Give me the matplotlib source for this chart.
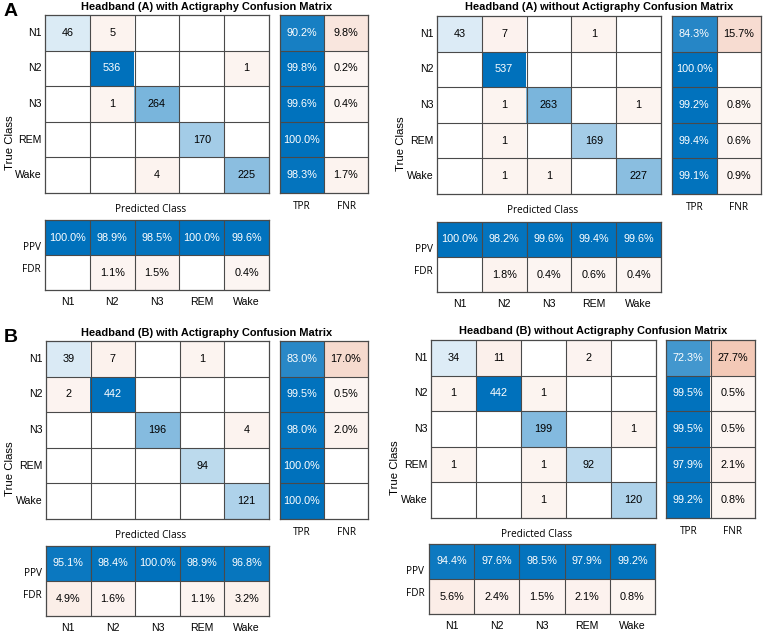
import numpy as np
import matplotlib
matplotlib.use("Agg")
from matplotlib import pyplot as plt

plt.rcParams['font.family'] = ['Liberation Sans', 'DejaVu Sans']

classes = ['N1', 'N2', 'N3', 'REM', 'Wake']

# confusion matrices, rows = true class, cols = predicted class
cm_a_with = [[46, 5, 0, 0, 0],
             [0, 536, 0, 0, 1],
             [0, 1, 264, 0, 0],
             [0, 0, 0, 170, 0],
             [0, 0, 4, 0, 225]]
cm_a_without = [[43, 7, 0, 1, 0],
                [0, 537, 0, 0, 0],
                [0, 1, 263, 0, 1],
                [0, 1, 0, 169, 0],
                [0, 1, 1, 0, 227]]
cm_b_with = [[39, 7, 0, 1, 0],
             [2, 442, 0, 0, 0],
             [0, 0, 196, 0, 4],
             [0, 0, 0, 94, 0],
             [0, 0, 0, 0, 121]]
cm_b_without = [[34, 11, 0, 2, 0],
                [1, 442, 1, 0, 0],
                [0, 0, 199, 0, 1],
                [1, 0, 1, 92, 0],
                [0, 0, 1, 0, 120]]

titles = ['Headband (A) with Actigraphy Confusion Matrix',
          'Headband (A) without Actigraphy Confusion Matrix',
          'Headband (B) with Actigraphy Confusion Matrix',
          'Headband (B) without Actigraphy Confusion Matrix']

BLUE = np.array([0.0, 0.447, 0.741])
ORANGE = np.array([0.85, 0.325, 0.098])
GRID = '#4a4a4a'
W, H = 764, 634
FS_CELL = 7.8
FS_TICK = 7.6


def tint(base, a):
    if a <= 0:
        return np.ones(3)
    return 1 - a * (1 - base)


def box(x0, y0, x1, y1):
    # pixel box -> figure coords
    return [x0 / W, 1 - y1 / H, (x1 - x0) / W, (y1 - y0) / H]


def cell_grid(ax, rgb, texts, white):
    nr, nc = len(rgb), len(rgb[0])
    ax.imshow(rgb, extent=(0, nc, nr, 0), aspect='auto', interpolation='nearest')
    for i in range(nr):
        for j in range(nc):
            if texts[i][j]:
                ax.text(j + 0.5, i + 0.5, texts[i][j], ha='center', va='center',
                        fontsize=FS_CELL, color='white' if white[i][j] else 'black')
    for k in range(1, nr):
        ax.axhline(k, color=GRID, lw=0.8)
    for k in range(1, nc):
        ax.axvline(k, color=GRID, lw=0.8)
    ax.set_xlim(0, nc)
    ax.set_ylim(nr, 0)
    ax.set_xticks([])
    ax.set_yticks([])
    for s in ax.spines.values():
        s.set_color(GRID)
        s.set_linewidth(0.9)


def panel(fig, cm, title, main, row, col, ylab_x, letter=None):
    cm = np.array(cm)
    n = len(classes)
    mx = cm.max()

    # main matrix
    rgb = np.ones((n, n, 3))
    txt = [[''] * n for _ in range(n)]
    wht = [[False] * n for _ in range(n)]
    for i in range(n):
        for j in range(n):
            v = cm[i, j]
            if v == 0:
                continue
            a = 0.06 + 0.94 * v / mx
            rgb[i, j] = tint(BLUE if i == j else ORANGE, a)
            txt[i][j] = str(v)
            wht[i][j] = a > 0.6
    ax = fig.add_axes(box(*main))
    cell_grid(ax, rgb, txt, wht)
    for i, c in enumerate(classes):
        ax.text(-0.08, i + 0.5, c, ha='right', va='center', fontsize=FS_TICK)
    ax.text(0.47, -0.06, 'Predicted Class', transform=ax.transAxes, ha='center',
            va='top', fontsize=7.2, family='Open Sans')
    fig.text(ylab_x / W, 1 - (main[1] + 0.72 * (main[3] - main[1])) / H, 'True Class',
             rotation=90, ha='center', va='center', fontsize=8.2)
    fig.text((main[0] + row[2]) / 2 / W, 1 - (main[1] - 8.5) / H, title,
             ha='center', va='center', fontsize=7.9, fontweight='bold')

    # row summary (TPR / FNR)
    tp = np.diag(cm)
    rs = cm.sum(axis=1)
    tpr = tp / rs
    fnr = 1 - tpr
    rgb = np.ones((n, 2, 3))
    txt = [['', ''] for _ in range(n)]
    wht = [[False, False] for _ in range(n)]
    for i in range(n):
        for j, (v, base) in enumerate([(tpr[i], BLUE), (fnr[i], ORANGE)]):
            if v < 1e-9:
                continue
            a = 0.05 + 0.95 * v
            rgb[i, j] = tint(base, a)
            txt[i][j] = f'{100 * v:.1f}%'
            wht[i][j] = a > 0.6
    axr = fig.add_axes(box(*row))
    cell_grid(axr, rgb, txt, wht)
    for j, lab in enumerate(['TPR', 'FNR']):
        axr.text(j + 0.5, n + 0.38, lab, ha='center', va='center', fontsize=7.2,
                 family='Open Sans')

    # column summary (PPV / FDR)
    cs = cm.sum(axis=0)
    ppv = tp / cs
    fdr = 1 - ppv
    rgb = np.ones((2, n, 3))
    txt = [[''] * n for _ in range(2)]
    wht = [[False] * n for _ in range(2)]
    for j in range(n):
        for i, (v, base) in enumerate([(ppv[j], BLUE), (fdr[j], ORANGE)]):
            if v < 1e-9:
                continue
            a = 0.05 + 0.95 * v
            rgb[i, j] = tint(base, a)
            txt[i][j] = f'{100 * v:.1f}%'
            wht[i][j] = a > 0.6
    axc = fig.add_axes(box(*col))
    cell_grid(axc, rgb, txt, wht)
    axc.text(-0.1, 0.78, 'PPV', ha='right', va='center', fontsize=7.2, family='Open Sans')
    axc.text(-0.1, 1.4, 'FDR', ha='right', va='center', fontsize=7.2, family='Open Sans')
    for j, c in enumerate(classes):
        axc.text(j + 0.5, 2.33, c, ha='center', va='center', fontsize=FS_TICK)

    if letter:
        fig.text(4 / W, 1 - (main[1] - 4) / H, letter, ha='left', va='center',
                 fontsize=14, fontweight='bold')


fig = plt.figure(figsize=(W / 100, H / 100), dpi=100)

panel(fig, cm_a_with, titles[0], (45, 15, 269, 193), (280, 15, 368, 193),
      (45, 220, 269, 290), 10, 'A')
panel(fig, cm_a_without, titles[1], (437, 16, 661, 194), (672, 16, 761, 194),
      (437, 222, 661, 292), 401)
panel(fig, cm_b_with, titles[2], (46, 341, 269, 519), (280, 341, 368, 519),
      (46, 546, 269, 616), 10, 'B')
panel(fig, cm_b_without, titles[3], (431, 340, 656, 518), (666, 340, 755, 518),
      (429, 544, 655, 614), 395)

fig.savefig('out.png', dpi=100)
